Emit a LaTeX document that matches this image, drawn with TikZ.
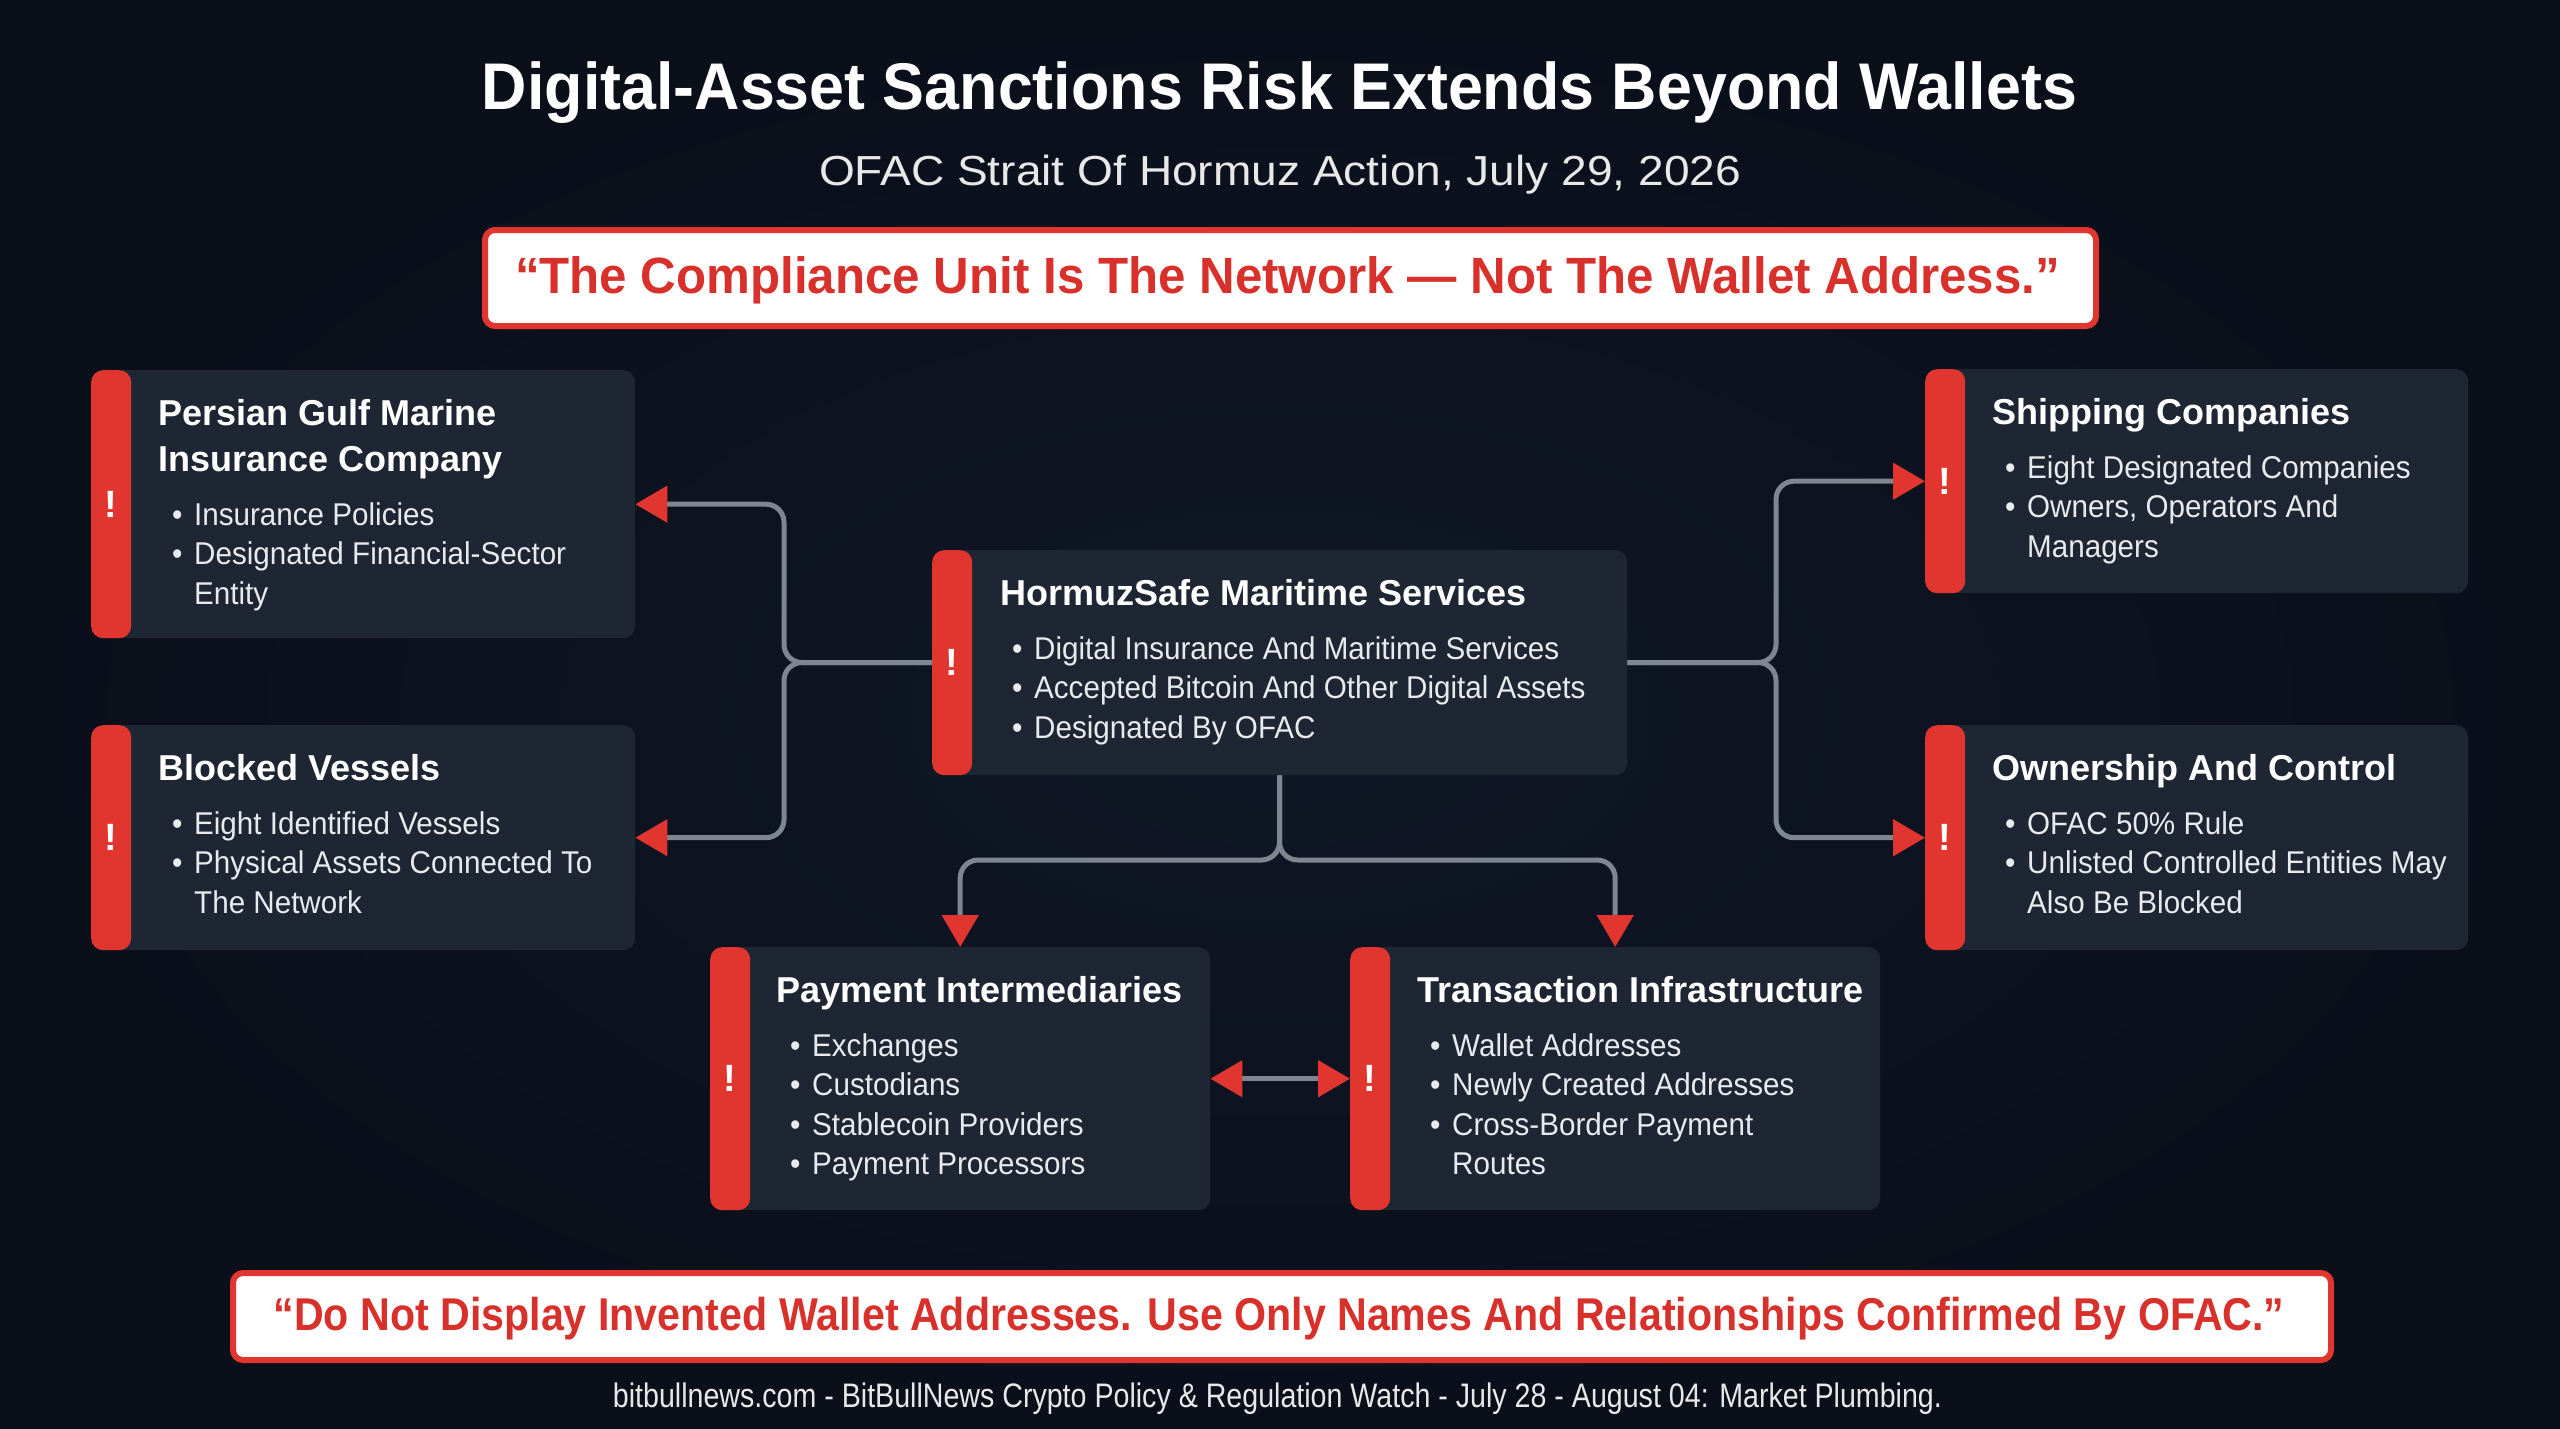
\documentclass[tikz,border=0pt]{standalone}
\usepackage{fontspec}
\usepackage{graphicx}
\setmainfont{Liberation Sans}
\newfontfamily\condf[FakeStretch=0.94]{Liberation Sans}
\usetikzlibrary{arrows.meta}
\definecolor{bg}{HTML}{0A0F1A}
\definecolor{bgin}{HTML}{101726}
\definecolor{boxc}{HTML}{1F2633}
\definecolor{rred}{HTML}{E0362F}
\definecolor{qred}{HTML}{D8312C}
\definecolor{connc}{HTML}{7E868F}
\definecolor{bult}{HTML}{E8EAED}
\definecolor{subt}{HTML}{E8E8E8}
\tikzset{
  riskbox/.style={fill=boxc, rounded corners=12pt, inner sep=0pt, anchor=north west,
    path picture={\fill[rred] (path picture bounding box.north west) rectangle ([xshift=40pt]path picture bounding box.south west);}},
  quotebox/.style={fill=white, draw=rred, line width=6pt, rounded corners=10pt, inner sep=0pt, anchor=north west},
  ttl/.style={anchor=base west, inner sep=0pt, text=white, font=\fontsize{36}{40}\selectfont\bfseries},
  bul/.style={anchor=base west, inner sep=0pt, text=bult, font=\condf\fontsize{31.5}{36}\selectfont},
  excl/.style={inner sep=0pt, text=white, font=\fontsize{38}{42}\selectfont\bfseries},
  link/.style={draw=connc, line width=5pt, rounded corners=18pt, -{Triangle[length=32pt,width=36pt,color=rred]}},
  link2/.style={draw=connc, line width=5pt, {Triangle[length=32pt,width=36pt,color=rred]}-{Triangle[length=32pt,width=36pt,color=rred]}},
  hdr/.style={anchor=base, inner sep=0pt}
}
\newcommand{\bdot}{\makebox[22pt][l]{\textbullet}}
\begin{document}
\begin{tikzpicture}[x=1pt,y=-1pt]
\useasboundingbox (0,0) rectangle (2560,1429);
\fill[bg] (0,0) rectangle (2560,1429);
\shade[inner color=bgin, outer color=bg] (0,0) rectangle (2560,1429);

% headings
\node[hdr, text=white] (title) at (1279.5,110) {\resizebox{1595pt}{\height}{\fontsize{66}{70}\selectfont\bfseries Digital-Asset Sanctions Risk Extends Beyond Wallets}};
\node[hdr, text=subt] (subtitle) at (1280,185) {\resizebox{922pt}{\height}{\fontsize{42}{46}\selectfont OFAC Strait Of Hormuz Action, July 29, 2026}};

% top quote
\node[quotebox, minimum width=1611pt, minimum height=96pt] (q1) at (482,227) {};
\node[hdr, text=qred] (q1t) at (1287.5,293) {\resizebox{1545pt}{\height}{\fontsize{51}{56}\selectfont\bfseries “The Compliance Unit Is The Network — Not The Wallet Address.”}};

% boxes
\node[riskbox, minimum width=544pt, minimum height=268pt] (pg) at (91,370) {};
\node[riskbox, minimum width=544pt, minimum height=225pt] (bv) at (91,725) {};
\node[riskbox, minimum width=695pt, minimum height=225pt] (hs) at (932,550) {};
\node[riskbox, minimum width=543pt, minimum height=224pt] (sc) at (1925,369) {};
\node[riskbox, minimum width=543pt, minimum height=225pt] (oc) at (1925,725) {};
\node[riskbox, minimum width=500pt, minimum height=263pt] (pi) at (710,947) {};
\node[riskbox, minimum width=530pt, minimum height=263pt] (ti) at (1350,947) {};

% exclamation marks
\node[excl] (pg-x) at (111,504) {!};
\node[excl] (bv-x) at (111,837.5) {!};
\node[excl] (hs-x) at (952,662.5) {!};
\node[excl] (sc-x) at (1945,481) {!};
\node[excl] (oc-x) at (1945,837.5) {!};
\node[excl] (pi-x) at (730,1078.5) {!};
\node[excl] (ti-x) at (1370,1078.5) {!};

% Persian Gulf
\node[ttl] (pg-t1) at (158,425) {Persian Gulf Marine};
\node[ttl] (pg-t2) at (158,471) {Insurance Company};
\node[bul] (pg-b1) at (172,525) {\bdot Insurance Policies};
\node[bul] (pg-b2) at (172,564.5) {\bdot Designated Financial-Sector};
\node[bul] (pg-b3) at (194,604) {Entity};

% Blocked Vessels
\node[ttl] (bv-t1) at (158,780) {Blocked Vessels};
\node[bul] (bv-b1) at (172,834) {\bdot Eight Identified Vessels};
\node[bul] (bv-b2) at (172,873.5) {\bdot Physical Assets Connected To};
\node[bul] (bv-b3) at (194,913) {The Network};

% HormuzSafe
\node[ttl] (hs-t1) at (1000,605) {HormuzSafe Maritime Services};
\node[bul] (hs-b1) at (1012,659) {\bdot Digital Insurance And Maritime Services};
\node[bul] (hs-b2) at (1012,698.5) {\bdot Accepted Bitcoin And Other Digital Assets};
\node[bul] (hs-b3) at (1012,738) {\bdot Designated By OFAC};

% Shipping
\node[ttl] (sc-t1) at (1992,424) {Shipping Companies};
\node[bul] (sc-b1) at (2005,478) {\bdot Eight Designated Companies};
\node[bul] (sc-b2) at (2005,517.5) {\bdot Owners, Operators And};
\node[bul] (sc-b3) at (2027,557) {Managers};

% Ownership
\node[ttl] (oc-t1) at (1992,780) {Ownership And Control};
\node[bul] (oc-b1) at (2005,834) {\bdot OFAC 50\% Rule};
\node[bul] (oc-b2) at (2005,873.5) {\bdot Unlisted Controlled Entities May};
\node[bul] (oc-b3) at (2027,913) {Also Be Blocked};

% Payment
\node[ttl] (pi-t1) at (776,1002) {Payment Intermediaries};
\node[bul] (pi-b1) at (790,1056) {\bdot Exchanges};
\node[bul] (pi-b2) at (790,1095.5) {\bdot Custodians};
\node[bul] (pi-b3) at (790,1135) {\bdot Stablecoin Providers};
\node[bul] (pi-b4) at (790,1174.5) {\bdot Payment Processors};

% Transaction
\node[ttl] (ti-t1) at (1417,1002) {Transaction Infrastructure};
\node[bul] (ti-b1) at (1430,1056) {\bdot Wallet Addresses};
\node[bul] (ti-b2) at (1430,1095.5) {\bdot Newly Created Addresses};
\node[bul] (ti-b3) at (1430,1135) {\bdot Cross-Border Payment};
\node[bul] (ti-b4) at (1452,1174.5) {Routes};

% connectors
\coordinate (jl) at (784,662.5);
\coordinate (jr) at (1776,662.5);
\coordinate (jd) at (1279.5,860);
\draw[link] (hs.west) -- (jl) |- (pg.east);
\draw[link] (hs.west) -- (jl) |- (bv.east);
\draw[link] (hs.east) -- (jr) |- (sc.west);
\draw[link] (hs.east) -- (jr) |- (oc.west);
\draw[link] (hs.south) -- (jd) -| (pi.north);
\draw[link] (hs.south) -- (jd) -| (ti.north);
\draw[link2] (pi.east) -- (ti.west);

% bottom quote
\node[quotebox, minimum width=2098pt, minimum height=87pt] (q2) at (230,1270) {};
\node[hdr, text=qred] (q2t) at (1279,1330) {\resizebox{2011pt}{\height}{\fontsize{46}{52}\selectfont\bfseries “Do Not Display Invented Wallet Addresses. Use Only Names And Relationships Confirmed By OFAC.”}};

% footer
\node[hdr, text=subt] (footer) at (1277.5,1407) {\resizebox{1329pt}{\height}{\fontsize{34}{38}\selectfont bitbullnews.com - BitBullNews Crypto Policy \& Regulation Watch - July 28 - August 04: Market Plumbing.}};
\end{tikzpicture}
\end{document}
